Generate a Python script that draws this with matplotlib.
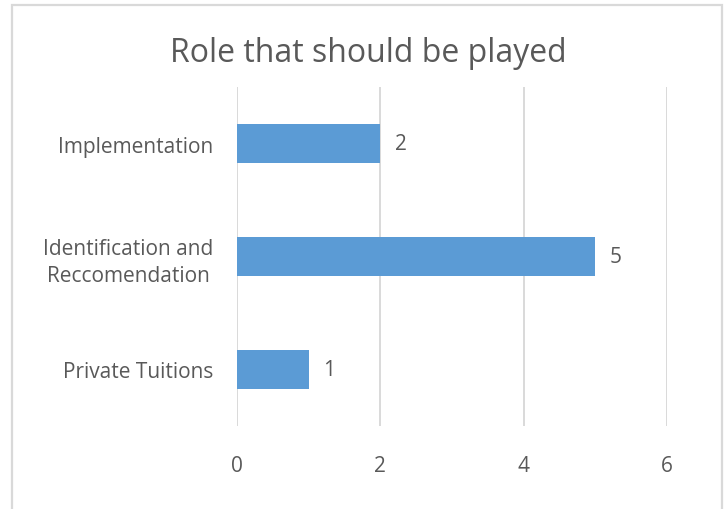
import matplotlib
matplotlib.use("Agg")
import matplotlib.pyplot as plt
from matplotlib.patches import Rectangle

categories = ["Private Tuitions", "Identification and\nReccomendation", "Implementation"]
values = [1, 5, 2]
x_ticks = [0, 2, 4, 6]

bar_color = "#5B9BD5"
text_color = "#595959"
grid_color = "#D9D9D9"

plt.rcParams["font.family"] = ["Open Sans", "DejaVu Sans"]

fig = plt.figure(figsize=(7.27, 5.10), dpi=100)
fig.patch.set_facecolor("white")

# chart frame
fig.add_artist(Rectangle((12 / 727, -0.02), 710 / 727, 1 - 6 / 510 + 0.02,
                         transform=fig.transFigure, fill=False,
                         edgecolor=grid_color, linewidth=1.6))

ax = fig.add_axes([237 / 727, 1 - 427 / 510, 430 / 727, 339 / 510])
pos = list(range(len(categories)))
bars = ax.barh(pos, values, height=0.35, color=bar_color, zorder=3)

ax.set_xlim(0, 6)
ax.set_ylim(-0.5, len(categories) - 0.5)
ax.set_xticks(x_ticks)
ax.set_xticklabels([str(t) for t in x_ticks])
ax.set_yticks(pos)
ax.set_yticklabels(categories, ha="right", multialignment="center",
                   linespacing=1.4)

ax.tick_params(axis="both", length=0, colors=text_color, labelsize=15)
ax.tick_params(axis="x", pad=21)
ax.tick_params(axis="y", pad=17)

ax.grid(axis="x", color=grid_color, linewidth=1.4, zorder=0)
for s in ax.spines.values():
    s.set_visible(False)

for b, v in zip(bars, values):
    ax.text(v + 0.2, b.get_y() + b.get_height() / 2, str(v),
            va="center", ha="left", color=text_color, fontsize=15)

fig.text(368 / 727, 1 - 53 / 510, "Role that should be played",
         ha="center", va="center", color=text_color, fontsize=23)

fig.savefig("out.png", dpi=100, facecolor="white")
